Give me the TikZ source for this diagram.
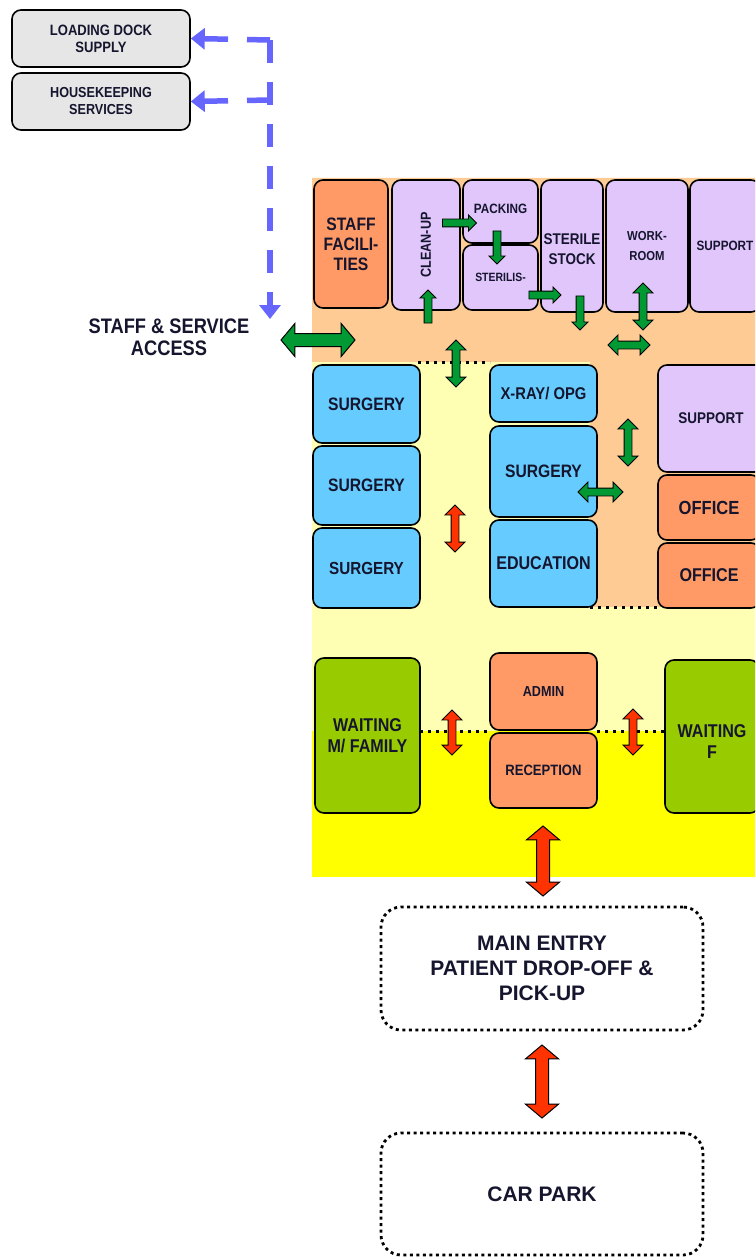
\documentclass[tikz,border=0pt]{standalone}
\usepackage{fontspec}
\setmainfont{Liberation Sans}
\newfontfamily\narrowsans[FakeStretch=0.87]{Liberation Sans}
\usetikzlibrary{arrows.meta,shapes.arrows,calc}
\definecolor{ink}{HTML}{15152E}
\definecolor{zonepeach}{HTML}{FDCB93}
\definecolor{zonelight}{HTML}{FFFFB4}
\definecolor{zoneyellow}{HTML}{FFFF00}
\definecolor{roomorange}{HTML}{FF9966}
\definecolor{roomlilac}{HTML}{E0C6FB}
\definecolor{roomblue}{HTML}{66CCFF}
\definecolor{roomgreen}{HTML}{99CC00}
\definecolor{roomgray}{HTML}{E6E6E6}
\definecolor{flowgreen}{HTML}{009933}
\definecolor{flowred}{HTML}{FF3300}
\definecolor{svcblue}{HTML}{6666FF}
\newcommand{\fs}[2]{\narrowsans\fontsize{#1pt}{#2pt}\selectfont\bfseries}
\newcommand{\fw}[2]{\fontsize{#1pt}{#2pt}\selectfont\bfseries}
\tikzset{
  room/.style={draw=black,line width=1.6pt,rounded corners=9pt,inner sep=0pt,
    align=center,text=ink},
  outside/.style={draw=black,line width=2.8pt,dash pattern=on 3pt off 3.5pt,
    rounded corners=20pt,align=center,text=ink,font=\fw{21}{25}},
  zoneline/.style={black,line width=3pt,dash pattern=on 3pt off 5pt},
  svcline/.style={svcblue,line width=5.5pt,dash pattern=on 23pt off 19pt,
    -{Triangle[length=14pt,width=21pt]}},
  gsingle/.style={single arrow,draw=black,line width=0.9pt,fill=flowgreen,
    inner xsep=0pt,inner ysep=3.5pt,single arrow head extend=4pt,minimum height=#1},
  gdouble/.style={double arrow,draw=black,line width=0.9pt,fill=flowgreen,
    inner xsep=0pt,inner ysep=3.5pt,double arrow head extend=6pt,minimum height=#1},
  rdouble/.style={double arrow,draw=black,line width=0.9pt,fill=flowred,
    inner xsep=0pt,inner ysep=3.5pt,double arrow head extend=6pt,minimum height=#1},
  bigdouble/.style={double arrow,draw=black,line width=1pt,
    inner xsep=0pt,inner ysep=6pt,double arrow head extend=10pt,
    double arrow tip angle=100,minimum height=#1}
}

\begin{document}
\begin{tikzpicture}[x=1pt,y=-1pt]
  \useasboundingbox (0,0) rectangle (755,1257);
  \clip (0,0) rectangle (755,1257);

  % zones of the plan
  \fill[zonepeach] (312,178) -- (755,178) -- (755,607) -- (590,607)
    -- (590,362) -- (312,362) -- cycle;
  \fill[zonelight] (312,362) -- (590,362) -- (590,607) -- (755,607)
    -- (755,731) -- (312,731) -- cycle;
  \fill[zoneyellow] (312,731) rectangle (755,877);

  \draw[zoneline] (418,362) -- (490,362);
  \draw[zoneline] (590,607) -- (658,607);
  \draw[zoneline] (420,731) -- (490,731);
  \draw[zoneline] (597,731) -- (665,731);

  % outside services
  \node[room,fill=roomgray,minimum width=178pt,minimum height=57pt,
    font=\fs{15}{17}] (loading) at (101,38.5) {LOADING DOCK\\SUPPLY};
  \node[room,fill=roomgray,minimum width=178pt,minimum height=57pt,
    font=\fs{14.5}{17}] (housekeeping) at (101,101.5) {HOUSEKEEPING\\SERVICES};
  \node[font=\fs{21}{22},align=center,text=ink] (access) at (169,337)
    {STAFF \& SERVICE\\ACCESS};

  % staff strip
  \node[room,fill=roomorange,minimum width=74pt,minimum height=128pt,
    font=\fs{18}{20}] (staff) at (351,244) {STAFF\\FACILI-\\TIES};
  \node[room,fill=roomlilac,rotate=90,minimum width=130pt,minimum height=68pt,
    font=\fs{14.5}{15}] (cleanup) at (426,245) {CLEAN-UP};
  \node[room,fill=roomlilac,minimum width=75pt,minimum height=63pt,
    font=\fs{13.5}{14}] (packing) at (500.5,211.5) {\raisebox{6pt}{PACKING}};
  \node[room,fill=roomlilac,minimum width=75pt,minimum height=65pt,
    font=\fs{12}{14}] (steril) at (500.5,277.5) {STERILIS-};
  \node[room,fill=roomlilac,minimum width=62pt,minimum height=132pt,
    label={[font=\fs{15.5}{20},text=ink,align=center,yshift=-3pt]center:STERILE\\STOCK}]
    (stock) at (572,246) {};
  \node[room,fill=roomlilac,minimum width=82pt,minimum height=132pt,
    font=\fs{13}{20}] (workroom) at (647,246) {WORK-\\ROOM};
  \node[room,fill=roomlilac,minimum width=70pt,minimum height=132pt,
    font=\fs{13.5}{14}] (supporttop) at (725,246) {SUPPORT};

  % clinical zone
  \node[room,fill=roomblue,minimum width=107pt,minimum height=78pt,
    font=\fs{18}{20}] (surgA) at (366.5,404) {SURGERY};
  \node[room,fill=roomblue,minimum width=107pt,minimum height=79pt,
    font=\fs{18}{20}] (surgB) at (366.5,485.5) {SURGERY};
  \node[room,fill=roomblue,minimum width=107pt,minimum height=80pt,
    font=\fs{17.5}{20}] (surgC) at (366.5,568) {SURGERY};
  \node[room,fill=roomblue,minimum width=107pt,minimum height=57pt,
    font=\fs{17}{20}] (xray) at (543.5,393.5) {X-RAY/ OPG};
  \node[room,fill=roomblue,minimum width=107pt,minimum height=91pt,
    font=\fs{18}{20}] (surgD) at (543.5,471.5) {SURGERY};
  \node[room,fill=roomblue,minimum width=107pt,minimum height=87pt,
    font=\fs{18.5}{20}] (education) at (543.5,563.5) {EDUCATION};
  \node[room,fill=roomlilac,minimum width=106pt,minimum height=107pt,
    font=\fs{15.5}{18}] (supportmid) at (711,418.5) {SUPPORT};
  \node[room,fill=roomorange,minimum width=102pt,minimum height=65pt,
    font=\fs{19}{20}] (officeA) at (709,507.5) {OFFICE};
  \node[room,fill=roomorange,minimum width=102pt,minimum height=65pt,
    font=\fs{18.5}{20}] (officeB) at (709,575.5) {OFFICE};

  % public zone
  \node[room,fill=roomgreen,minimum width=105pt,minimum height=155pt,
    font=\fs{18.5}{21}] (waitfam) at (367.5,735.5) {WAITING\\M/ FAMILY};
  \node[room,fill=roomorange,minimum width=107pt,minimum height=77pt,
    font=\fs{14.5}{16}] (admin) at (543.5,691.5) {ADMIN};
  \node[room,fill=roomorange,minimum width=107pt,minimum height=75pt,
    font=\fs{15}{16}] (reception) at (543.5,770.5) {RECEPTION};
  \node[room,fill=roomgreen,minimum width=94pt,minimum height=153pt,
    label={[font=\fs{18.5}{21},text=ink,align=center,yshift=-5pt]center:WAITING\\F}]
    (waitf) at (712,736.5) {};

  % outside
  \node[outside,minimum width=322pt,minimum height=123pt] (mainentry)
    at (542,968.5) {MAIN ENTRY\\PATIENT DROP-OFF \&\\PICK-UP};
  \node[outside,minimum width=322pt,minimum height=122pt] (carpark)
    at (542,1194) {CAR PARK};

  % staff and service flows
  \coordinate (svctop) at (270,40);
  \coordinate (svcmid) at (270,100);
  \coordinate (svcend) at (270,319);
  \draw[svcline] (svctop) -- (svcend);
  \draw[svcline] (svctop) -- (loading.east);
  \draw[svcline] (svcmid) -- (housekeeping.east);

  \node[bigdouble=74pt,fill=flowgreen] (accessarrow) at (318,340) {};

  \foreach \px/\py/\len/\ang [count=\i] in {428/308.5/33/90,457.5/223/34/0,
      497/245.5/33/-90,543/295/32/0,580/311/34/-90}
    \node[gsingle=\len pt,rotate=\ang] (gs\i) at (\px,\py) {};

  \foreach \px/\py/\len/\ang [count=\i] in {643/306.5/47/90,629/345/42/0,
      456/363.5/47/90,628/442.5/47/90,600.5/492/45/0}
    \node[gdouble=\len pt,rotate=\ang] (gd\i) at (\px,\py) {};

  % patient flows
  \foreach \px/\py/\len [count=\i] in {455/528.5/47,452/732.5/45,633/732/46}
    \node[rdouble=\len pt,rotate=90] (rd\i) at (\px,\py) {};

  \node[bigdouble=70pt,fill=flowred,rotate=90] (entryarrow) at (543,861) {};
  \node[bigdouble=73pt,fill=flowred,rotate=90] (parkarrow)
    at ($(mainentry.south)!0.5!(carpark.north)$) {};
\end{tikzpicture}
\end{document}
